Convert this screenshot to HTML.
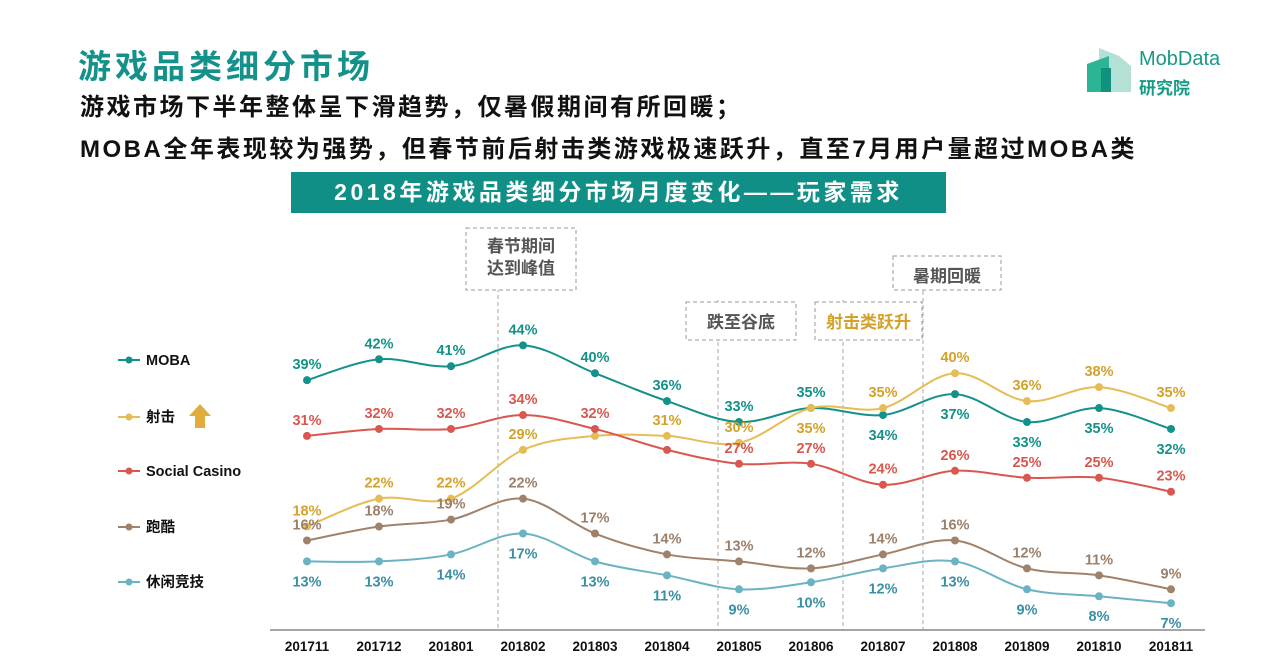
<!DOCTYPE html>
<html><head><meta charset="utf-8">
<style>
body{margin:0;width:1277px;height:661px;overflow:hidden;background:#fff;font-family:"Liberation Sans","Noto Sans CJK SC",sans-serif;}
.t{position:absolute;white-space:nowrap;font-weight:bold;}
</style></head><body>
<div class="t" style="left:78px;top:40px;font-size:33px;letter-spacing:4px;color:#13918a;">游戏品类细分市场</div>
<div class="t" style="left:80px;top:87px;font-size:24px;letter-spacing:2.5px;color:#111;">游戏市场下半年整体呈下滑趋势，仅暑假期间有所回暖；</div>
<div class="t" style="left:80px;top:129px;font-size:24px;letter-spacing:2.5px;color:#111;">MOBA全年表现较为强势，但春节前后射击类游戏极速跃升，直至7月用户量超过MOBA类</div>
<div style="position:absolute;left:1085px;top:46px;width:160px;height:50px;">
<svg width="50" height="50"><polygon points="14,2 34,10 46,20 46,46 14,46" fill="#b4e0d6"/><polygon points="2,18 24,10 24,46 2,46" fill="#2bb594"/><rect x="16" y="22" width="10" height="24" fill="#12917f"/></svg>
<div class="t" style="left:54px;top:2px;font-size:20px;font-weight:normal;color:#159a84;">MobData</div>
<div class="t" style="left:54px;top:28px;font-size:17px;color:#159a84;">研究院</div>
</div>
<div style="position:absolute;left:291px;top:172px;width:655px;height:41px;background:#0f8f86;color:#fff;font-size:23px;letter-spacing:3.5px;font-weight:bold;text-align:center;line-height:41px;">2018年游戏品类细分市场月度变化——玩家需求</div>
<svg id="c" width="1277" height="661" style="position:absolute;left:0;top:0"></svg>
<script>
const categories=["201711","201712","201801","201802","201803","201804","201805","201806","201807","201808","201809","201810","201811"];
const seriesNames=["MOBA","射击","Social Casino","跑酷","休闲竞技"];
const moba=[39,42,41,44,40,36,33,35,34,37,33,35,32];
const shooter=[18,22,22,29,31,31,30,35,35,40,36,38,35];
const casino=[31,32,32,34,32,29,27,27,24,26,25,25,23];
const parkour=[16,18,19,22,17,14,13,12,14,16,12,11,9];
const casual=[13,13,14,17,13,11,9,10,12,13,9,8,7];
const mobaLbl="aaaaaaaabbbbb", shooterLbl="aaaanaabaaaaa", casinoLbl="aaaaanaaaaaaa", parkourLbl="aaaaaaaaaaaaa", casualLbl="bbbbbbbbbbbbb";
const S=document.getElementById('c'),NS="http://www.w3.org/2000/svg";
function x(i){return 307+i*72;}
function y(v){return 652-v*6.97;}
function el(t,a,p){const e=document.createElementNS(NS,t);for(const k in a)e.setAttribute(k,a[k]);(p||S).appendChild(e);return e;}
[[498,232,630],[718,300,630],[843,300,630],[923,256,630]].forEach(g=>{
const l=el('line',{x1:g[0],x2:g[0],y1:g[1],y2:g[2],stroke:'#aaa','stroke-dasharray':'4,3'});


});
[[466,228,110,62,["春节期间","达到峰值"],'#555'],[686,302,110,38,["跌至谷底"],'#555'],[815,302,107,38,["射击类跃升"],'#d4a22a'],[893,256,108,34,["暑期回暖"],'#555']].forEach(b=>{
const r=el('rect',{x:b[0],y:b[1],width:b[2],height:b[3],fill:'#fff',stroke:'#999','stroke-dasharray':'4,3'});


b[4].forEach((s,k)=>{const t=el('text',{x:b[0]+b[2]/2,y:b[1]+(b[4].length==1?26:24+k*22),'text-anchor':'middle','font-size':17,'font-weight':'bold',fill:b[5]});t.textContent=s;

});
});
const ax=el('line',{x1:270,x2:1205,y1:630,y2:630,stroke:'#888','stroke-width':1.5});


categories.forEach((c,i)=>{const t=el('text',{x:x(i),y:651,'text-anchor':'middle','font-size':13.5,'font-weight':'bold',fill:'#111'});t.textContent=c;

});
const series=[[moba,'#13918a','#13918a',mobaLbl],[shooter,'#e6bd55','#d4a22a',shooterLbl],[casino,'#d9574f','#d9574f',casinoLbl],[parkour,'#a0826b','#9c7f68',parkourLbl],[casual,'#6ab3c2','#3a8fa5',casualLbl]];
series.forEach((s,si)=>{
const d=s[0],P=d.map((v,i)=>[x(i),y(v)]);
let p='M'+P[0];
for(let i=0;i<P.length-1;i++){const a=P[i-1]||P[i],b=P[i],c=P[i+1],e=P[i+2]||c;
p+=' C'+(b[0]+(c[0]-a[0])/6)+','+(b[1]+(c[1]-a[1])/6)+' '+(c[0]-(e[0]-b[0])/6)+','+(c[1]-(e[1]-b[1])/6)+' '+c;}
const ln=el('path',{d:p,fill:'none',stroke:s[1],'stroke-width':2});


P.forEach((q,i)=>{const c=el('circle',{cx:q[0],cy:q[1],r:4,fill:s[1]});


const m=s[3][i];if(m==='n')return;
const t=el('text',{x:q[0],y:q[1]+(m==='a'?-11:25),'text-anchor':'middle','font-size':14.5,'font-weight':'bold',fill:s[2]});t.textContent=d[i]+'%';

});
const ly=[360,417,471,527,582][si];
const l2=el('line',{x1:118,x2:140,y1:ly,y2:ly,stroke:s[1],'stroke-width':2});


el('circle',{cx:129,cy:ly,r:3.5,fill:s[1]});
const lt=el('text',{x:146,y:ly+5,'font-size':14.5,'font-weight':'bold',fill:'#111'});lt.textContent=seriesNames[si];


});
const ar=el('polygon',{points:'200,404 211,416 205,416 205,428 195,428 195,416 189,416',fill:'#e0ad3c'});


</script>
</body></html>
